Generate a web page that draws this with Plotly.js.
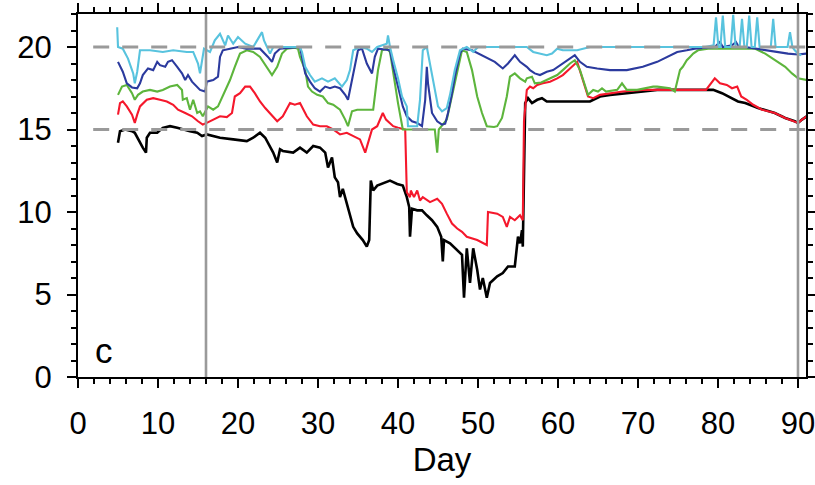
<!DOCTYPE html>
<html>
<head>
<meta charset="utf-8">
<script src="https://cdn.plot.ly/plotly-3.0.1.min.js"></script>
<style>html,body{margin:0;padding:0;background:#fff;}#chart{width:815px;height:485px;}</style>
</head>
<body>
<div id="chart"></div>
<script>
// ---- data ----
const blackDays = [5.0,5.25,5.9,6.75,7.1,7.5,8.1,8.5,8.6,9.0,9.9,10.6,11.5,12.4,13.1,14.0,14.9,15.5,16.1,16.9,17.75,19.4,21.1,21.9,22.75,23.4,23.75,24.4,24.9,25.25,25.6,26.9,27.75,28.6,29.4,30.25,30.9,31.25,31.75,32.1,32.5,32.75,33.1,33.75,34.4,34.9,35.6,36.1,36.4,36.6,36.9,37.4,38.0,39.0,39.9,40.6,41.1,41.4,41.5,41.75,42.4,43.0,43.6,44.25,44.9,45.4,45.6,45.75,46.5,47.4,48.0,48.25,48.6,49.0,49.4,49.9,50.25,50.6,51.1,51.5,52.4,53.1,53.75,54.6,55.0,55.25,55.5,55.6,55.9,56.25,56.75,57.4,58.0,58.6,60.25,62.4,64.0,65.25,66.5,68.6,70.6,72.4,74.6,76.25,78.4,79.4,80.5,81.75,82.5,83.4,85.0,87.1,88.4,89.6,90.0,90.5,91.1];
const blackVals = [14.2,14.9,15.0,14.9,14.8,14.4,13.9,13.6,14.5,14.8,14.8,15.1,15.2,15.1,15.0,14.9,14.8,14.6,14.7,14.6,14.5,14.4,14.3,14.5,14.8,14.5,14.2,13.6,13.0,13.8,13.7,13.6,13.9,13.6,14.0,13.9,13.6,12.7,13.3,12.1,11.8,10.9,11.4,10.3,9.1,8.7,8.3,7.9,8.3,11.9,11.3,11.6,11.7,11.9,11.7,11.6,10.9,10.3,8.5,10.2,10.1,10.1,9.8,9.5,9.1,8.5,7.0,8.3,8.1,7.7,7.4,4.8,7.8,5.7,7.8,6.5,5.3,6.0,4.8,5.7,6.1,6.3,6.7,6.7,8.5,8.1,8.9,7.9,16.6,16.9,16.6,16.8,16.9,16.7,16.7,16.7,16.7,17.0,17.1,17.2,17.3,17.4,17.4,17.4,17.4,17.4,17.2,16.9,16.7,16.6,16.3,16.0,15.7,15.5,15.4,15.6,15.8];

const redDays = [5.0,5.25,5.6,6.1,6.75,7.1,7.4,7.75,8.6,9.4,10.25,11.1,11.9,12.5,13.4,14.25,15.0,15.6,16.1,16.9,17.75,18.6,19.25,19.6,20.25,20.9,21.5,22.1,22.75,23.4,24.0,24.9,25.6,26.5,27.1,27.75,28.6,29.4,30.25,31.1,31.9,32.75,33.6,34.4,35.25,35.9,36.25,36.75,37.4,38.1,38.5,39.4,40.0,40.9,41.1,41.5,41.6,42.0,42.4,42.75,43.1,44.0,44.9,45.5,46.1,46.75,47.4,48.0,48.6,49.9,51.1,51.25,52.4,53.1,53.6,54.0,54.6,55.25,55.6,55.75,56.1,56.5,56.9,57.4,58.1,59.0,59.9,60.6,61.5,62.1,62.4,63.75,64.4,65.25,66.5,68.1,70.6,72.4,74.6,76.5,78.5,79.6,80.25,81.1,81.75,82.4,82.9,83.6,84.4,85.5,87.1,88.4,89.6,90.0,90.5,91.1];
const redVals = [15.9,16.6,16.7,16.4,15.9,15.4,15.9,16.4,16.8,16.9,16.8,16.7,16.5,16.2,16.0,15.8,15.5,15.3,15.4,15.6,15.8,15.75,16.0,17.0,17.2,17.6,17.6,17.2,16.7,16.3,16.0,15.5,15.8,16.6,16.5,16.6,15.8,15.3,15.2,15.2,15.0,14.7,14.8,14.6,14.4,13.6,14.2,15.0,15.2,16.0,15.6,15.2,15.1,15.0,11.2,10.9,11.3,10.9,11.3,10.7,10.9,10.6,10.8,10.5,9.9,9.3,9.0,8.8,8.5,8.3,8.0,10.0,9.9,9.7,9.1,9.7,9.5,9.8,9.5,15.5,17.4,17.6,17.5,17.7,17.8,17.9,18.1,18.3,18.7,19.0,19.1,17.0,16.9,17.1,17.2,17.3,17.4,17.4,17.4,17.4,17.4,18.1,17.8,17.7,17.5,17.6,17.0,16.8,16.5,16.2,16.0,15.7,15.5,15.4,15.6,15.8];

const greenDays = [5.0,5.5,6.1,6.75,7.1,7.5,8.1,9.0,9.9,10.6,11.5,12.4,13.0,13.1,13.6,14.0,14.4,14.9,15.25,15.6,16.25,16.9,17.5,18.1,19.0,19.6,20.25,21.1,21.9,22.75,23.6,24.25,24.9,25.5,26.1,27.1,27.5,27.75,28.4,28.75,29.25,29.9,30.6,31.25,31.9,32.75,33.4,33.75,34.25,34.9,36.9,37.5,38.0,38.6,39.0,39.4,40.0,40.6,41.5,44.6,44.9,45.1,46.1,46.75,47.4,48.0,48.6,49.25,49.9,50.5,51.1,52.0,52.4,53.0,53.6,54.0,54.6,55.25,55.9,56.1,56.75,57.1,57.9,58.6,59.0,59.9,60.6,61.5,62.1,62.75,63.75,64.4,65.0,65.5,66.0,67.4,68.0,68.6,69.9,71.9,72.4,74.0,74.6,75.0,75.25,75.6,76.1,76.5,76.9,77.5,78.75,82.5,84.6,85.9,87.1,88.4,89.25,90.0,91.1];
const greenVals = [17.1,17.6,17.7,17.2,16.8,17.1,17.3,17.4,17.3,17.4,17.6,17.7,17.4,16.8,16.9,16.2,16.8,16.0,16.1,15.8,16.4,16.2,16.4,17.0,18.0,18.8,19.6,19.8,19.7,19.4,18.8,18.3,18.8,19.6,19.9,19.95,19.9,19.4,18.6,17.6,17.3,17.1,17.0,16.6,16.5,16.2,15.6,15.2,16.1,16.2,16.2,18.6,19.8,19.9,19.7,18.4,16.6,15.0,15.0,15.0,13.6,15.0,15.6,17.0,18.6,19.8,19.7,18.6,17.0,16.0,15.2,15.15,15.2,15.7,17.0,18.2,18.4,18.1,17.9,18.1,18.2,17.8,17.85,18.0,18.1,18.3,18.6,19.0,19.2,18.6,17.1,17.4,17.3,17.5,17.3,17.4,17.8,17.4,17.4,17.6,17.6,17.5,17.3,18.0,18.6,18.8,19.2,19.4,19.6,19.8,19.9,19.9,19.9,19.6,19.2,18.8,18.4,18.1,18.0];

const blueDays = [5.0,5.6,6.1,6.75,7.4,7.75,8.1,8.75,9.4,9.9,10.25,10.9,11.25,11.75,12.4,13.0,13.4,13.75,14.25,14.9,15.25,15.9,16.1,16.9,17.5,17.75,18.1,19.0,20.0,21.0,22.75,23.75,24.25,24.6,25.25,27.75,28.0,28.4,29.0,29.6,30.25,30.9,31.5,32.1,32.75,33.4,33.75,34.4,34.9,35.0,35.5,36.1,36.75,37.1,37.5,39.0,39.4,40.0,40.6,41.1,41.75,42.4,43.0,43.4,43.6,43.75,44.25,44.9,45.5,45.9,46.25,46.75,47.1,47.75,48.1,49.25,50.9,52.1,53.1,53.75,54.25,54.6,55.25,56.1,56.5,57.1,57.75,58.6,59.4,60.0,60.9,61.75,62.1,62.75,63.6,64.9,66.5,68.6,70.6,72.4,73.6,74.9,76.1,77.1,79.6,80.25,80.6,81.75,82.25,82.6,83.4,84.6,85.9,87.1,88.75,90.0,91.1];
const blueVals = [19.1,18.5,17.8,17.55,17.5,17.8,18.3,18.7,18.6,19.1,18.9,18.8,19.1,19.2,18.8,18.4,18.0,18.3,17.9,17.6,17.4,17.3,17.9,18.0,18.2,19.4,19.8,19.9,20.0,19.9,19.9,19.4,19.1,19.6,19.9,20.0,19.4,18.4,17.9,17.5,17.3,17.6,17.5,17.6,17.5,17.1,16.8,18.3,19.4,19.8,19.9,19.0,18.4,19.4,19.9,19.8,18.8,17.6,16.4,15.8,15.5,15.4,15.2,16.8,18.8,17.8,16.0,15.5,15.3,15.35,16.0,17.2,18.2,19.6,19.9,19.8,19.4,19.1,18.7,19.0,19.3,19.5,19.1,18.8,18.6,18.4,18.3,18.5,18.6,18.8,19.1,19.4,19.5,19.1,18.8,18.7,18.6,18.6,18.8,19.1,19.4,19.7,19.8,19.9,20.0,20.3,20.0,20.1,20.3,20.0,20.0,19.9,19.8,19.7,19.6,19.55,19.6];

const cyanDays = [4.9,5.0,5.6,6.25,6.9,7.1,7.4,7.75,9.0,10.6,11.9,13.6,14.4,15.0,15.25,15.5,15.75,16.5,17.1,17.75,18.4,18.75,19.4,20.0,20.9,21.9,23.0,23.25,23.6,24.0,24.4,25.6,27.75,28.0,28.4,29.0,29.6,30.5,31.25,32.1,33.0,33.6,34.0,34.4,35.25,36.1,36.75,37.4,38.6,38.75,39.0,39.4,40.0,40.5,41.1,41.25,42.4,42.75,43.1,43.6,44.0,44.6,45.0,45.5,46.1,46.5,47.1,47.75,48.6,49.4,50.0,52.0,54.6,56.1,56.9,57.75,58.6,59.25,59.9,60.6,62.4,64.0,78.4,79.45,79.75,80.05,80.3,80.6,80.9,81.6,81.9,82.2,82.7,83.0,83.3,83.6,83.9,84.2,84.6,84.9,85.2,86.6,86.9,87.2,88.7,89.0,89.3,89.6,90.0,90.4];
const cyanVals = [21.2,20.0,19.9,19.3,18.4,17.8,18.5,19.8,19.8,19.7,19.8,19.7,19.7,19.0,18.4,19.2,19.9,19.7,20.4,20.8,20.1,20.7,20.2,20.6,20.2,20.0,20.9,20.4,20.0,19.6,20.0,20.0,20.0,19.7,18.8,18.3,17.9,18.1,17.9,18.1,17.6,18.0,18.6,19.8,20.0,19.9,19.7,20.0,20.2,20.7,20.0,19.2,18.1,17.0,16.4,15.2,15.2,16.8,19.8,20.0,19.0,17.6,16.4,16.1,16.3,17.1,18.6,19.8,20.0,19.7,20.0,20.0,20.0,20.0,19.7,19.6,19.5,19.6,19.9,19.8,19.8,20.0,20.0,20.1,21.8,20.0,20.0,21.9,20.0,20.0,21.95,20.0,20.0,21.7,20.0,20.0,21.9,20.0,20.0,21.8,20.0,20.0,21.7,20.0,20.0,20.9,20.0,19.8,19.6,19.5];

const refLevels = [15, 20];
const refDays = [16, 90];
const xTicks = [0,10,20,30,40,50,60,70,80,90];
const yTicks = [0,5,10,15,20];

// ---- styling ----
const series = [
  {x: blackDays, y: blackVals, color: '#000000', w: 2.6},
  {x: redDays, y: redVals, color: '#f5182c', w: 2.1},
  {x: greenDays, y: greenVals, color: '#5db53c', w: 2.1},
  {x: blueDays, y: blueVals, color: '#2b3a9e', w: 2.1},
  {x: cyanDays, y: cyanVals, color: '#58c3de', w: 2.1}
];
const traces = series.map(s => ({
  type: 'scatter', mode: 'lines', x: s.x, y: s.y,
  line: {color: s.color, width: s.w}, hoverinfo: 'skip', showlegend: false
}));

const shapes = [];
refLevels.forEach(v => shapes.push({type: 'line', xref: 'x', yref: 'y', x0: 1.9, x1: 91, y0: v, y1: v,
  line: {color: '#9a9a9a', width: 3, dash: '16px,13px'}, layer: 'above'}));
refDays.forEach(d => shapes.push({type: 'line', xref: 'x', yref: 'y', x0: d, x1: d, y0: 0, y1: 22,
  line: {color: '#9a9a9a', width: 2.6}, layer: 'above'}));

const axisFont = {family: 'Liberation Sans, Arial, sans-serif', size: 31, color: '#000'};
const layout = {
  width: 815, height: 485,
  margin: {l: 78, r: 9, t: 14, b: 108},
  paper_bgcolor: '#fff', plot_bgcolor: '#fff',
  showlegend: false,
  xaxis: {
    range: [0, 91], tickvals: xTicks, ticks: 'outside', ticklen: 9, tickwidth: 2, tickcolor: '#000',
    showline: true, linecolor: '#000', linewidth: 2, mirror: 'ticks', showgrid: false, zeroline: false,
    tickfont: axisFont, ticklabelstandoff: 9, ticklabeloverflow: 'allow',
    minor: {dtick: 2, tick0: 0, ticks: 'outside', ticklen: 5, tickwidth: 2, tickcolor: '#000', showgrid: false},
    title: {text: 'Day', font: {family: 'Liberation Sans, Arial, sans-serif', size: 33, color: '#000'}, standoff: 6}
  },
  yaxis: {
    range: [0, 22], tickvals: yTicks, ticks: 'outside', ticklen: 9, tickwidth: 2, tickcolor: '#000',
    showline: true, linecolor: '#000', linewidth: 2, mirror: 'ticks', showgrid: false, zeroline: false,
    tickfont: axisFont, ticklabelstandoff: 9, ticklabeloverflow: 'allow',
    minor: {dtick: 1, tick0: 0, ticks: 'outside', ticklen: 5, tickwidth: 2, tickcolor: '#000', showgrid: false}
  },
  shapes: shapes,
  annotations: [{xref: 'x', yref: 'y', x: 1.9, y: 1.6, xanchor: 'left', yanchor: 'middle', text: 'c',
    showarrow: false, font: {family: 'Liberation Sans, Arial, sans-serif', size: 35, color: '#000'}}]
};

Plotly.newPlot('chart', traces, layout, {staticPlot: true, displayModeBar: false});
</script>
</body>
</html>
